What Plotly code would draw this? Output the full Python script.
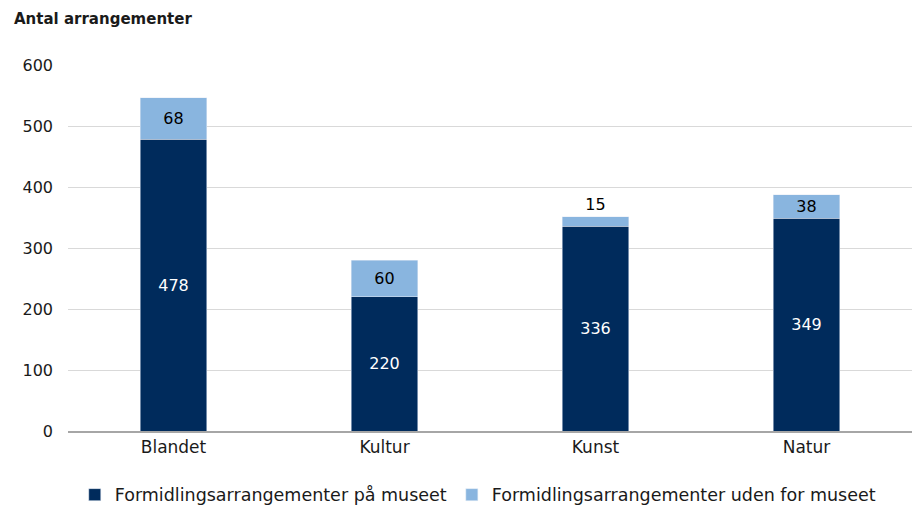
import plotly.graph_objects as go

categories = ["Blandet", "Kultur", "Kunst", "Natur"]
paa_museet = [478, 220, 336, 349]
uden_for = [68, 60, 15, 38]
series_names = ["Formidlingsarrangementer på museet", "Formidlingsarrangementer uden for museet"]
y_ticks = [0, 100, 200, 300, 400, 500, 600]

dark = "#002b5c"
light = "#89b5df"
font = "DejaVu Sans"

fig = go.Figure()
fig.add_trace(go.Bar(
    x=categories, y=paa_museet, name=series_names[0],
    marker_color=dark, text=paa_museet, textposition="inside", textangle=0,
    insidetextanchor="middle", textfont=dict(color="white", size=16, family=font),
    cliponaxis=False,
))
fig.add_trace(go.Bar(
    x=categories, y=uden_for, name=series_names[1],
    marker_color=light, text=uden_for, textangle=0,
    textposition=["inside" if v >= 30 else "outside" for v in uden_for],
    insidetextanchor="middle", textfont=dict(color="black", size=16, family=font),
    outsidetextfont=dict(color="black", size=16, family=font),
    constraintext="none", cliponaxis=False,
))
fig.update_layout(
    barmode="stack", bargap=0.685,
    width=914, height=506,
    margin=dict(l=68, r=2, t=65, b=75, autoexpand=False),
    plot_bgcolor="white", paper_bgcolor="white",
    font=dict(family=font, size=16, color="#1a1a1a"),
    uniformtext=dict(minsize=8, mode="show"),
    showlegend=True,
    legend=dict(orientation="h", x=0.4855, xanchor="center", y=-0.125, yanchor="top",
                font=dict(size=17.5, family=font), traceorder="normal",
                itemwidth=30, tracegroupgap=0),
)
fig.add_annotation(text="<b>Antal arrangementer</b>", xref="paper", yref="paper",
                   x=-0.0664, y=1.126, xanchor="left", yanchor="middle", showarrow=False,
                   font=dict(size=15, family=font, color="#1a1a1a"))
fig.update_yaxes(range=[0, 600], tickvals=y_ticks, showgrid=True, gridcolor="#d9d9d9",
                 gridwidth=1, zeroline=False, ticks="", ticklabelstandoff=14, automargin=False,
                 tickfont=dict(size=16, family=font))
fig.update_xaxes(showline=True, linecolor="#a6a6a6", linewidth=1.5, ticks="", automargin=False,
                 tickfont=dict(size=17, family=font))
fig.write_html("out.html", config={"displayModeBar": False},
               post_script="document.body.style.margin='0';document.body.style.padding='0';")
